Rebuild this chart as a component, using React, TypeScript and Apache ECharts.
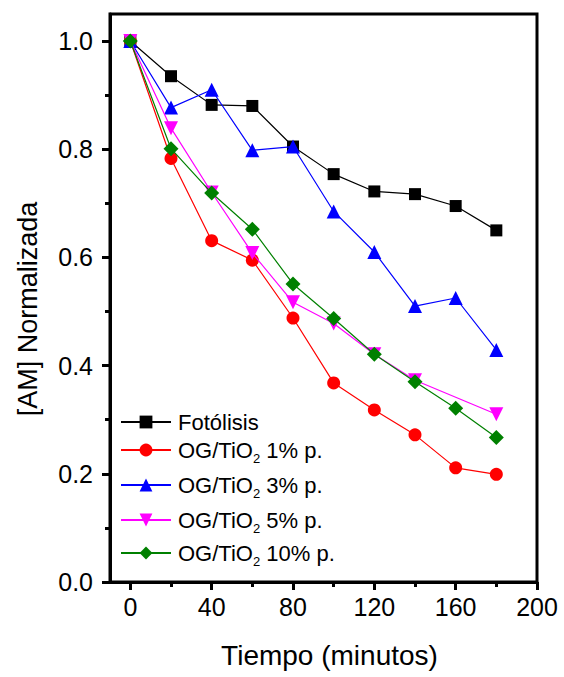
import { useEffect, useRef } from "react";
import * as echarts from "echarts";

// Irradiation time (minutes)
const tiempo = [0, 20, 40, 60, 80, 100, 120, 140, 160, 180];

const seriesNames = [
  "Fotólisis",
  "OG/TiO2 1% p.",
  "OG/TiO2 3% p.",
  "OG/TiO2 5% p.",
  "OG/TiO2 10% p.",
];

// Normalized methylene blue concentration [AM]/[AM]0
const fotolisis = [1.0, 0.935, 0.882, 0.88, 0.805, 0.754, 0.722, 0.717, 0.695, 0.65];
const ogTio1 = [1.0, 0.783, 0.631, 0.595, 0.488, 0.368, 0.318, 0.272, 0.211, 0.199];
const ogTio3 = [1.0, 0.877, 0.91, 0.798, 0.805, 0.685, 0.61, 0.51, 0.525, 0.429];
const ogTio5 = [1.0, 0.839, 0.72, 0.608, 0.517, 0.478, 0.421, 0.373, null, 0.31];
const ogTio10 = [1.0, 0.801, 0.719, 0.652, 0.551, 0.487, 0.421, 0.37, 0.321, 0.267];

const xMajorTicks = [0, 40, 80, 120, 160, 200];
const xMinorTicks = [20, 60, 100, 140, 180];
const yMajorTicks = [0, 0.2, 0.4, 0.6, 0.8, 1.0];
const yMinorTicks = [0.1, 0.3, 0.5, 0.7, 0.9];

const FONT = '"Liberation Sans", Arial, Helvetica, sans-serif';

const toPairs = (vals: (number | null)[]) =>
  tiempo
    .map((t, i) => [t, vals[i]] as [number, number | null])
    .filter((p) => p[1] !== null);

const styles = [
  { color: "#000000", symbol: "rect", size: 12, rotate: 0, data: fotolisis },
  { color: "#ff0000", symbol: "circle", size: 13, rotate: 0, data: ogTio1 },
  { color: "#0000ff", symbol: "triangle", size: 14, rotate: 0, data: ogTio3 },
  { color: "#ff00ff", symbol: "triangle", size: 14, rotate: 180, data: ogTio5 },
  { color: "#008000", symbol: "diamond", size: 15, rotate: 0, data: ogTio10 },
];

const legendCenters = [419, 447, 482, 517, 550];

export default function App() {
  const ref = useRef<HTMLDivElement>(null);

  useEffect(() => {
    if (!ref.current) return;
    const chart = echarts.init(ref.current, null, { renderer: "svg" });

    const axisLineStyle = { color: "#000", width: 3 };

    const option: any = {
      animation: false,
      backgroundColor: "#fff",
      textStyle: { fontFamily: FONT },
      grid: {
        left: 110,
        right: 27,
        top: 14,
        bottom: 95,
        show: true,
        borderColor: "#000",
        borderWidth: 3,
        backgroundColor: "transparent",
      },
      xAxis: [
        {
          type: "value",
          min: -10,
          max: 200,
          name: "Tiempo (minutos)",
          nameLocation: "middle",
          nameGap: 59,
          nameTextStyle: { fontSize: 28, color: "#000", fontFamily: FONT, padding: [0, 0, 0, 12] },
          axisLine: { show: true, onZero: false, lineStyle: axisLineStyle },
          axisTick: {
            show: true,
            inside: false,
            length: 8,
            customValues: xMajorTicks,
            lineStyle: { color: "#000", width: 3 },
          },
          axisLabel: {
            show: true,
            customValues: xMajorTicks,
            fontSize: 25,
            color: "#000",
            fontFamily: FONT,
            margin: 12,
          },
          splitLine: { show: false },
        },
        {
          type: "value",
          min: -10,
          max: 200,
          position: "bottom",
          axisLine: { show: false, onZero: false },
          axisTick: {
            show: true,
            inside: false,
            length: 5,
            customValues: xMinorTicks,
            lineStyle: { color: "#000", width: 3 },
          },
          axisLabel: { show: false },
          splitLine: { show: false },
        },
      ],
      yAxis: [
        {
          type: "value",
          min: 0,
          max: 1.05,
          name: "[AM] Normalizada",
          nameLocation: "middle",
          nameGap: 69,
          nameTextStyle: { fontSize: 27, color: "#000", fontFamily: FONT, padding: [0, 22, 0, 0] },
          axisLine: { show: true, onZero: false, lineStyle: axisLineStyle },
          axisTick: {
            show: true,
            inside: false,
            length: 8,
            customValues: yMajorTicks,
            lineStyle: { color: "#000", width: 3 },
          },
          axisLabel: {
            show: true,
            customValues: yMajorTicks,
            fontSize: 25,
            color: "#000",
            fontFamily: FONT,
            margin: 17,
            formatter: (v: number) => v.toFixed(1),
          },
          splitLine: { show: false },
        },
        {
          type: "value",
          min: 0,
          max: 1.05,
          position: "left",
          axisLine: { show: false, onZero: false },
          axisTick: {
            show: true,
            inside: false,
            length: 5,
            customValues: yMinorTicks,
            lineStyle: { color: "#000", width: 3 },
          },
          axisLabel: { show: false },
          splitLine: { show: false },
        },
      ],
      legend: seriesNames.map((n, i) => ({
        data: [n],
        left: 120,
        top: legendCenters[i] - 8,
        orient: "vertical",
        itemWidth: 50,
        itemHeight: 16,
        itemGap: 0,
        padding: 0,
        selectedMode: false,
        formatter: (name: string) => name.replace("TiO2", "TiO{sub|2}"),
        textStyle: {
          fontSize: 22,
          color: "#000",
          fontFamily: FONT,
          padding: [0, 0, 0, 2],
          rich: {
            sub: {
              fontSize: 13,
              color: "#000",
              fontFamily: FONT,
              verticalAlign: "bottom",
              lineHeight: 29,
            },
          },
        },
      })),
      series: styles.map((s, i) => ({
        name: seriesNames[i],
        type: "line",
        xAxisIndex: 0,
        yAxisIndex: 0,
        data: toPairs(s.data),
        symbol: s.symbol,
        symbolSize: s.size,
        symbolRotate: s.rotate,
        showAllSymbol: true,
        lineStyle: { color: s.color, width: 1.2 },
        itemStyle: { color: s.color },
        emphasis: { disabled: true },
        z: 2 + i,
      })),
    };

    chart.setOption(option);
    return () => chart.dispose();
  }, []);

  return <div ref={ref} style={{ width: 564, height: 677, position: "absolute", left: 0, top: 0 }} />;
}
